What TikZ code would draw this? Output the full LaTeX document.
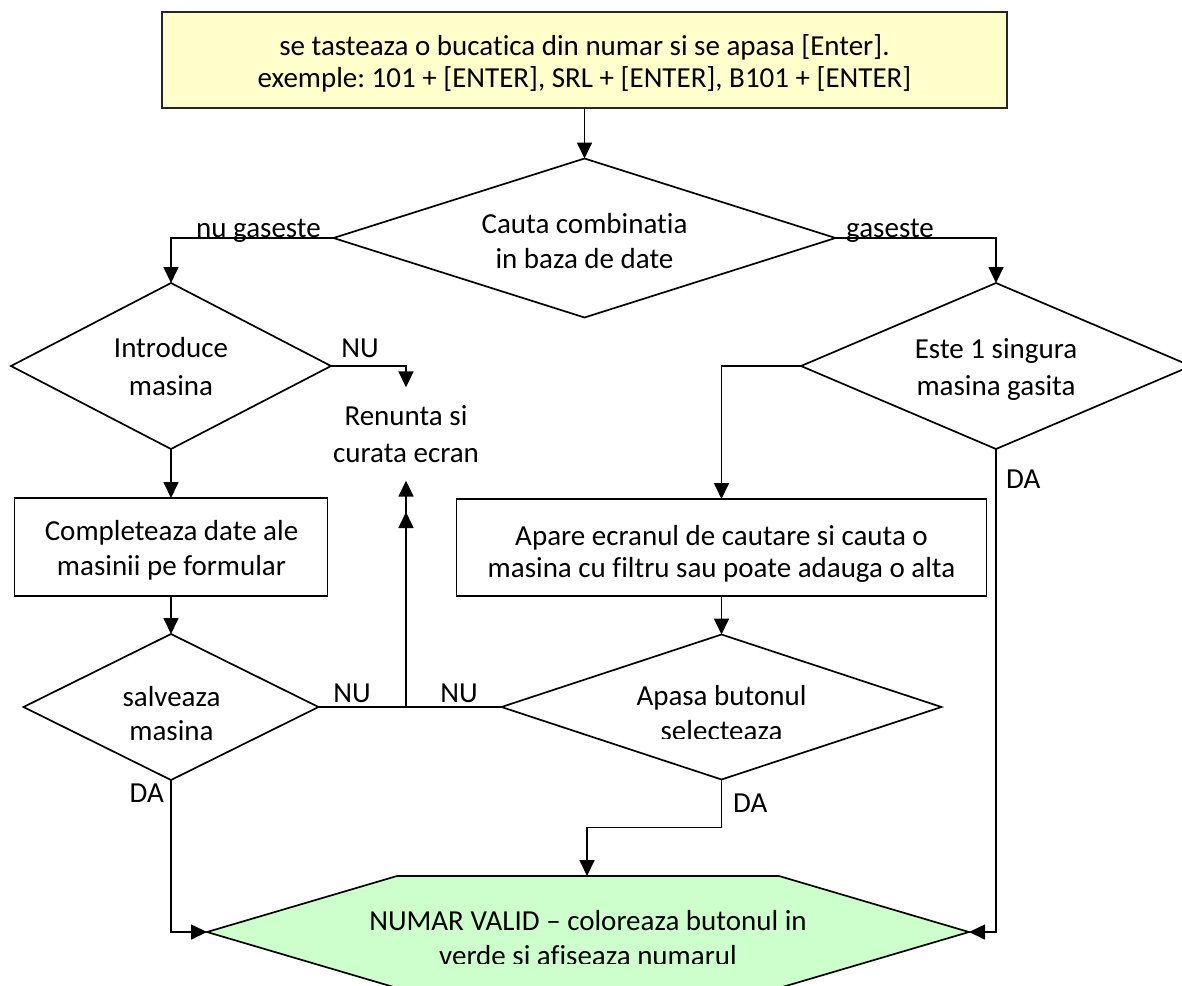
\documentclass[tikz,border=0pt]{standalone}
\usepackage{fontspec}
\setmainfont{Carlito}[Ligatures={NoCommon}]
\frenchspacing
\usetikzlibrary{shapes.geometric,arrows.meta}
\definecolor{yel}{HTML}{FFFFCC}
\definecolor{grn}{HTML}{CCFFCC}
\tikzset{
  shp/.style={draw=black, line width=1.7pt, inner sep=0pt, outer sep=0pt},
  boxshape/.style={shp, rectangle},
  dia/.style={shp, diamond},
  txt/.style={font=\fontsize{29}{35}\selectfont, inner sep=0pt, anchor=base},
  arr/.style={line width=1.7pt, -{Triangle[length=16pt,width=15pt]}},
}
\begin{document}
\begin{tikzpicture}[x=1pt,y=-1pt]
\useasboundingbox (0,0) rectangle (1182,985);
% shapes
\node[boxshape, fill=yel, draw=black!85, line width=2.4pt, minimum width=845, minimum height=96] (top) at (584.5,60) {};
\node[dia, minimum width=502, minimum height=159] (cauta) at (584.5,238) {};
\node[dia, minimum width=320, minimum height=166] (intro) at (171,366) {};
\node[dia, minimum width=390, minimum height=166] (este) at (996,366) {};
\node[boxshape, minimum width=313, minimum height=98] (compl) at (171,547) {};
\node[boxshape, minimum width=530, minimum height=97] (apare) at (721.5,547.5) {};
\node[dia, minimum width=295, minimum height=146] (salv) at (171,707) {};
\node[dia, minimum width=440, minimum height=145] (apasa) at (721.5,707) {};
\node[font=\fontsize{29}{37}\selectfont, align=center, inner sep=0pt, minimum height=93] (renunta) at (406,434) {Renunta si\\curata ecran};
% hexagon
\coordinate (hexL) at (207,932);
\coordinate (hexR) at (969,932);
\coordinate (hexT) at (587,876);
\coordinate (nuTip2) at (406,512);
\draw[shp, fill=grn] (hexL) -- (397,876) -- (779,876) -- (hexR) -- (779,988) -- (397,988) -- cycle;
% texts
\node[txt] (t1) at (584.5,55) {se tasteaza o bucatica din numar si se apasa [Enter].};
\node[txt] (t2) at (584.5,87) {exemple: 101 + [ENTER], SRL + [ENTER], B101 + [ENTER]};
\node[txt] (c1) at (584.5,233) {Cauta combinatia};
\node[txt] (c2) at (584.5,268) {in baza de date};
\node[txt] (e1) at (996,358) {Este 1 singura};
\node[txt] (e2) at (996,395) {masina gasita};
\node[txt] (i1) at (171,357) {Introduce};
\node[txt] (i2) at (171,395) {masina};
\node[txt] (k1) at (171.5,540) {Completeaza date ale};
\node[txt] (k2) at (171.5,575) {masinii pe formular};
\node[txt] (a1) at (721.5,545) {Apare ecranul de cautare si cauta o};
\node[txt] (a2) at (721.5,577) {masina cu filtru sau poate adauga o alta};
\node[txt] (s1) at (171.5,706) {salveaza};
\node[txt] (s2) at (171.5,740) {masina};
\begin{scope}
\clip (480,600) rectangle (960,738);
\node[txt] (p1) at (721.5,705) {Apasa butonul};
\node[txt] (p2) at (721.5,740) {selecteaza};
\end{scope}
\begin{scope}
\clip (200,870) rectangle (980,963);
\node[txt] (h1) at (588,930) {NUMAR VALID – coloreaza butonul in};
\node[txt] (h2) at (588,965) {verde si afiseaza numarul};
\end{scope}
% labels
\node[txt, anchor=base east] (lnug) at (321,237) {nu gaseste};
\node[txt, anchor=base west] (lgas) at (846,237) {gaseste};
\node[txt] (lnu1) at (360,357) {NU};
\node[txt] (lnu2) at (352,702) {NU};
\node[txt] (lnu3) at (459,702) {NU};
\node[txt, anchor=base west] (lda1) at (1006,488) {DA};
\node[txt, anchor=base west] (lda2) at (733,812) {DA};
\node[txt, anchor=base east] (lda3) at (164,802) {DA};
% connectors
\draw[arr] (top.south) -- (cauta.north);
\draw[arr] (cauta.west) -| (intro.north);
\draw[arr] (cauta.east) -| (este.north);
\draw[arr] (este.west) -| (apare.north);
\draw[arr] (este.south) |- (hexR);
\draw[arr] (intro.east) -| (renunta.north);
\draw[arr] (intro.south) -- (compl.north);
\draw[arr] (compl.south) -- (salv.north);
\draw[arr] (salv.east) -| (renunta.south);
\draw[arr] (apasa.west) -| (nuTip2);
\draw[arr] (apare.south) -- (apasa.north);
\draw[arr] (salv.south) |- (hexL);
\draw[arr] (apasa.south) -- ++(0,48) -| (hexT);
\end{tikzpicture}
\end{document}
